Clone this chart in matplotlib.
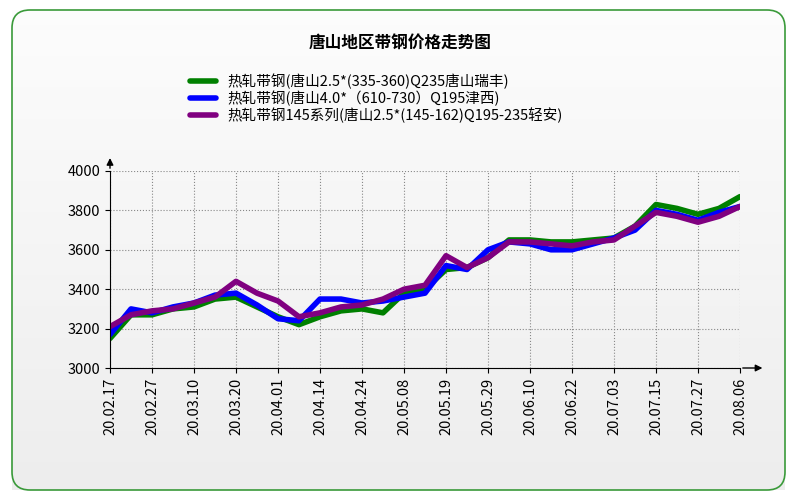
import matplotlib
matplotlib.use("Agg")
import matplotlib.pyplot as plt
from matplotlib.patches import FancyBboxPatch
import numpy as np

plt.rcParams['font.family'] = ['Noto Sans CJK SC', 'DejaVu Sans']

tick_labels = ["20.02.17","20.02.27","20.03.10","20.03.20","20.04.01","20.04.14","20.04.24",
               "20.05.08","20.05.19","20.05.29","20.06.10","20.06.22","20.07.03","20.07.15",
               "20.07.27","20.08.06"]
names = ["热轧带钢(唐山2.5*(335-360)Q235唐山瑞丰)",
         "热轧带钢(唐山4.0*（610-730）Q195津西)",
         "热轧带钢145系列(唐山2.5*(145-162)Q195-235轻安)"]
green = [3150,3270,3270,3300,3310,3350,3360,3310,3260,3220,3260,3290,3300,3280,3380,3400,
         3500,3510,3560,3650,3650,3640,3640,3650,3660,3720,3830,3810,3780,3810,3870]
blue = [3170,3300,3280,3310,3330,3370,3380,3320,3250,3240,3350,3350,3330,3340,3360,3380,
        3520,3500,3600,3640,3630,3600,3600,3630,3660,3700,3800,3780,3750,3790,3820]
purple = [3210,3270,3290,3300,3330,3360,3440,3380,3340,3260,3280,3310,3320,3350,3400,3420,
          3570,3510,3560,3640,3640,3630,3620,3640,3650,3720,3790,3770,3740,3770,3820]
colors = ["#008000", "#0000ff", "#800080"]

fig = plt.figure(figsize=(8, 5), dpi=100)
bg = fig.add_axes([0, 0, 1, 1], zorder=-10)
bg.set_xlim(0, 800); bg.set_ylim(500, 0); bg.axis('off')
grad = np.linspace(1, 0, 256).reshape(-1, 1)
bg.imshow(np.dstack([0.93+0.06*grad]*3), extent=[12, 785, 490, 10], aspect='auto')
bg.add_patch(FancyBboxPatch((12, 10), 773, 480, boxstyle="round,pad=0,rounding_size=18",
                            fill=False, ec="#3a9a3a", lw=1.2))
bg.set_xlim(0, 800); bg.set_ylim(500, 0)

fig.text(0.5, 0.915, "唐山地区带钢价格走势图", ha='center', va='center', fontsize=12, fontweight='bold')

ax = fig.add_axes([0.1375, 0.264, 0.7875, 0.394])
ax.patch.set_alpha(0)
x = np.arange(len(green)) * 0.5
for s, c, n in zip([green, blue, purple], colors, names):
    ax.plot(x, s, color=c, lw=4, label=n, solid_capstyle='round')
ax.set_xlim(0, 15)
ax.set_ylim(3000, 4000)
ax.set_xticks(range(16))
ax.set_xticklabels(tick_labels, rotation=90, fontsize=10)
ax.set_yticks(range(3000, 4001, 200))
ax.tick_params(labelsize=10.5)
ax.grid(True, ls=':', color='#888888', lw=0.8)
for sp in ['top', 'right']:
    ax.spines[sp].set_visible(False)
ax.annotate('', xy=(1.04, 0), xycoords='axes fraction', xytext=(1.0, 0),
            arrowprops=dict(arrowstyle='-|>', color='black', lw=1))
ax.annotate('', xy=(0, 1.08), xycoords='axes fraction', xytext=(0, 1.0),
            arrowprops=dict(arrowstyle='-|>', color='black', lw=1))
fig.legend(loc='upper left', bbox_to_anchor=(0.23, 0.865), frameon=False, fontsize=10.5,
           handlelength=1.8, labelspacing=0.1, borderaxespad=0)
fig.savefig("out.png", dpi=100)
